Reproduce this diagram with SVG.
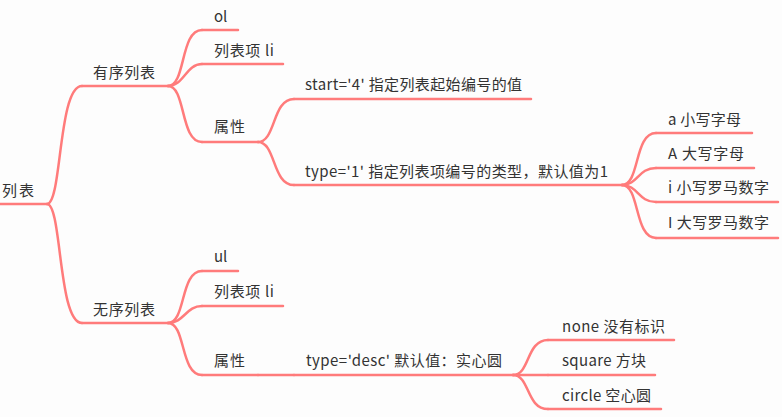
<svg xmlns="http://www.w3.org/2000/svg" width="782" height="417" viewBox="0 0 782 417">
<style>
text{font-family:"Noto Sans CJK SC","Noto Sans",sans-serif;font-size:15px;fill:#333}
.l{fill:none;stroke:#ff7b7b;stroke-width:2.5;stroke-linecap:round}
</style>
<rect width="782" height="417" fill="#fdfdfd"/>
<g id="connectors">
<path class="l" d="M47,204 C62,204 58,86 82,86"/>
<path class="l" d="M47,204 C62,204 58,323 82,323"/>
<path class="l" d="M168,86 C186,86 180,30 202,30"/>
<path class="l" d="M168,86 C184,86 186,64 202,64"/>
<path class="l" d="M168,86 C186,86 180,142 202,142"/>
<path class="l" d="M258,142 C276,142 272,99 294,99"/>
<path class="l" d="M258,142 C276,142 272,185 294,185"/>
<path class="l" d="M622,185 C640,185 634,133 656,133"/>
<path class="l" d="M622,185 C638,185 638,168 656,168"/>
<path class="l" d="M622,185 C638,185 638,202 656,202"/>
<path class="l" d="M622,185 C640,185 634,238 656,238"/>
<path class="l" d="M168,323 C186,323 180,271 202,271"/>
<path class="l" d="M168,323 C184,323 186,306 202,306"/>
<path class="l" d="M168,323 C186,323 180,375 202,375"/>
<path class="l" d="M258,375 L294,375"/>
<path class="l" d="M513,375 C530,375 526,340 548,340"/>
<path class="l" d="M513,375 L548,375"/>
<path class="l" d="M513,375 C530,375 526,409 548,409"/>
</g>
<g id="root"><text x="2" y="196" textLength="32">列表</text><path class="l" d="M0,204 L47,204"/></g>
<g id="ordered"><text x="93" y="78" textLength="62">有序列表</text><path class="l" d="M82,86 L168,86"/></g>
<g id="ol"><text x="214" y="22">ol</text><path class="l" d="M202,30 L238,30"/></g>
<g id="ol-li"><text x="214" y="56" textLength="60">列表项 li</text><path class="l" d="M202,64 L283,64"/></g>
<g id="ol-attr"><text x="214" y="132" textLength="31">属性</text><path class="l" d="M202,142 L258,142"/></g>
<g id="ol-start"><text x="305" y="90" textLength="217">start='4' 指定列表起始编号的值</text><path class="l" d="M294,99 L531,99"/></g>
<g id="ol-type"><text x="305" y="177" textLength="303">type='1' 指定列表项编号的类型，默认值为1</text><path class="l" d="M294,185 L622,185"/></g>
<g id="type-a"><text x="668" y="125" textLength="73">a 小写字母</text><path class="l" d="M656,133 L752,133"/></g>
<g id="type-A"><text x="668" y="159" textLength="76">A 大写字母</text><path class="l" d="M656,168 L754,168"/></g>
<g id="type-i"><text x="668" y="193" textLength="101">i 小写罗马数字</text><path class="l" d="M656,202 L778,202"/></g>
<g id="type-I"><text x="668" y="228" textLength="101">I 大写罗马数字</text><path class="l" d="M656,238 L778,238"/></g>
<g id="unordered"><text x="93" y="315" textLength="62">无序列表</text><path class="l" d="M82,323 L168,323"/></g>
<g id="ul"><text x="214" y="262">ul</text><path class="l" d="M202,271 L238,271"/></g>
<g id="ul-li"><text x="214" y="297" textLength="60">列表项 li</text><path class="l" d="M202,306 L283,306"/></g>
<g id="ul-attr"><text x="214" y="366" textLength="31">属性</text><path class="l" d="M202,375 L258,375"/></g>
<g id="ul-type"><text x="306" y="366" textLength="196">type='desc' 默认值：实心圆</text><path class="l" d="M294,375 L513,375"/></g>
<g id="ul-none"><text x="562" y="332" textLength="103">none 没有标识</text><path class="l" d="M548,340 L674,340"/></g>
<g id="ul-square"><text x="562" y="366" textLength="84">square 方块</text><path class="l" d="M548,375 L655,375"/></g>
<g id="ul-circle"><text x="562" y="401" textLength="89">circle 空心圆</text><path class="l" d="M548,409 L661,409"/></g>
</svg>
